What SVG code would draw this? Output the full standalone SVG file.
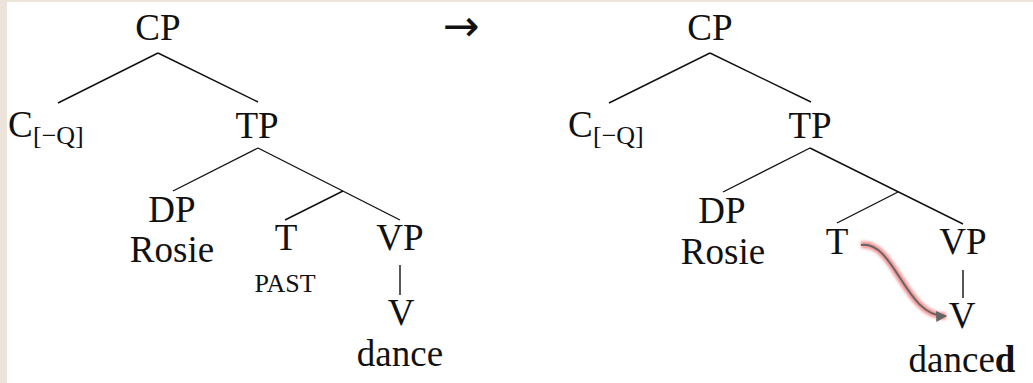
<svg xmlns="http://www.w3.org/2000/svg" width="1033" height="383" viewBox="0 0 1033 383">
<defs>
<style>
.t{font-family:"Liberation Serif","Times New Roman",serif;font-size:37px;fill:#111;text-anchor:middle}
.s{font-family:"Liberation Serif","Times New Roman",serif;font-size:26px;fill:#111}
.l{stroke:#111;stroke-width:1.4;fill:none}
</style>
<marker id="ah" viewBox="0 0 10 10" refX="9" refY="5" markerWidth="11" markerHeight="11" markerUnits="userSpaceOnUse" orient="auto">
<path d="M0,0 L10,5 L0,10 z" fill="#666"/>
</marker>
<filter id="glow" x="-20%" y="-20%" width="140%" height="140%"><feGaussianBlur stdDeviation="1.8"/></filter>
</defs>
<rect width="1033" height="383" fill="#ECE3DA"/>
<rect x="7" y="2" width="1026" height="381" fill="#fff"/>
<g id="connectors">
<path class="l" d="M158,53 L58,103 M158,53 L258,102"/>
<path class="l" d="M258,148 L173,191 M258,148 L400,220 M343,191 L285,220"/>
<path class="l" d="M400,265 L400,295"/>
<path class="l" d="M710,53 L609,103 M710,53 L811,102"/>
<path class="l" d="M810,148 L723,192 M810,148 L963,224 M898,192 L837,223"/>
<path class="l" d="M963,270 L963,298"/>
<g id="movement">
<path d="M861,245 C895,240 905,318 946,316" fill="none" stroke="#f07f7f" stroke-width="7" opacity="0.85" filter="url(#glow)"/>
<path d="M861,245 C895,240 905,318 946,316" fill="none" stroke="#666" stroke-width="2" marker-end="url(#ah)"/>
</g>
</g>
<g id="left-CP"><text class="t" x="158" y="40">CP</text></g>
<g id="left-C"><text class="t" x="8" y="137" style="text-anchor:start">C</text><text class="s" x="33" y="144">[−Q]</text></g>
<g id="left-TP"><text class="t" x="257" y="138">TP</text></g>
<g id="left-DP"><text class="t" x="172" y="222">DP</text><text class="t" x="172" y="262">Rosie</text></g>
<g id="left-T"><text class="t" x="286" y="250">T</text><text class="s" x="285" y="292" style="text-anchor:middle">PAST</text></g>
<g id="left-VP"><text class="t" x="400" y="250">VP</text></g>
<g id="left-V"><text class="t" x="401" y="325">V</text><text class="t" x="400" y="366">dance</text></g>
<g id="arrow"><text x="461" y="41" style="font-family:'DejaVu Sans',sans-serif;font-size:44px;text-anchor:middle;fill:#111">→</text></g>
<g id="right-CP"><text class="t" x="710" y="40">CP</text></g>
<g id="right-C"><text class="t" x="568" y="137" style="text-anchor:start">C</text><text class="s" x="593" y="144">[−Q]</text></g>
<g id="right-TP"><text class="t" x="810" y="138">TP</text></g>
<g id="right-DP"><text class="t" x="722" y="223">DP</text><text class="t" x="723" y="264">Rosie</text></g>
<g id="right-T"><text class="t" x="837" y="254">T</text></g>
<g id="right-VP"><text class="t" x="963" y="254">VP</text></g>
<g id="right-V"><text class="t" x="962" y="328">V</text><text class="t" x="962" y="372">dance<tspan font-weight="bold">d</tspan></text></g>
</svg>
